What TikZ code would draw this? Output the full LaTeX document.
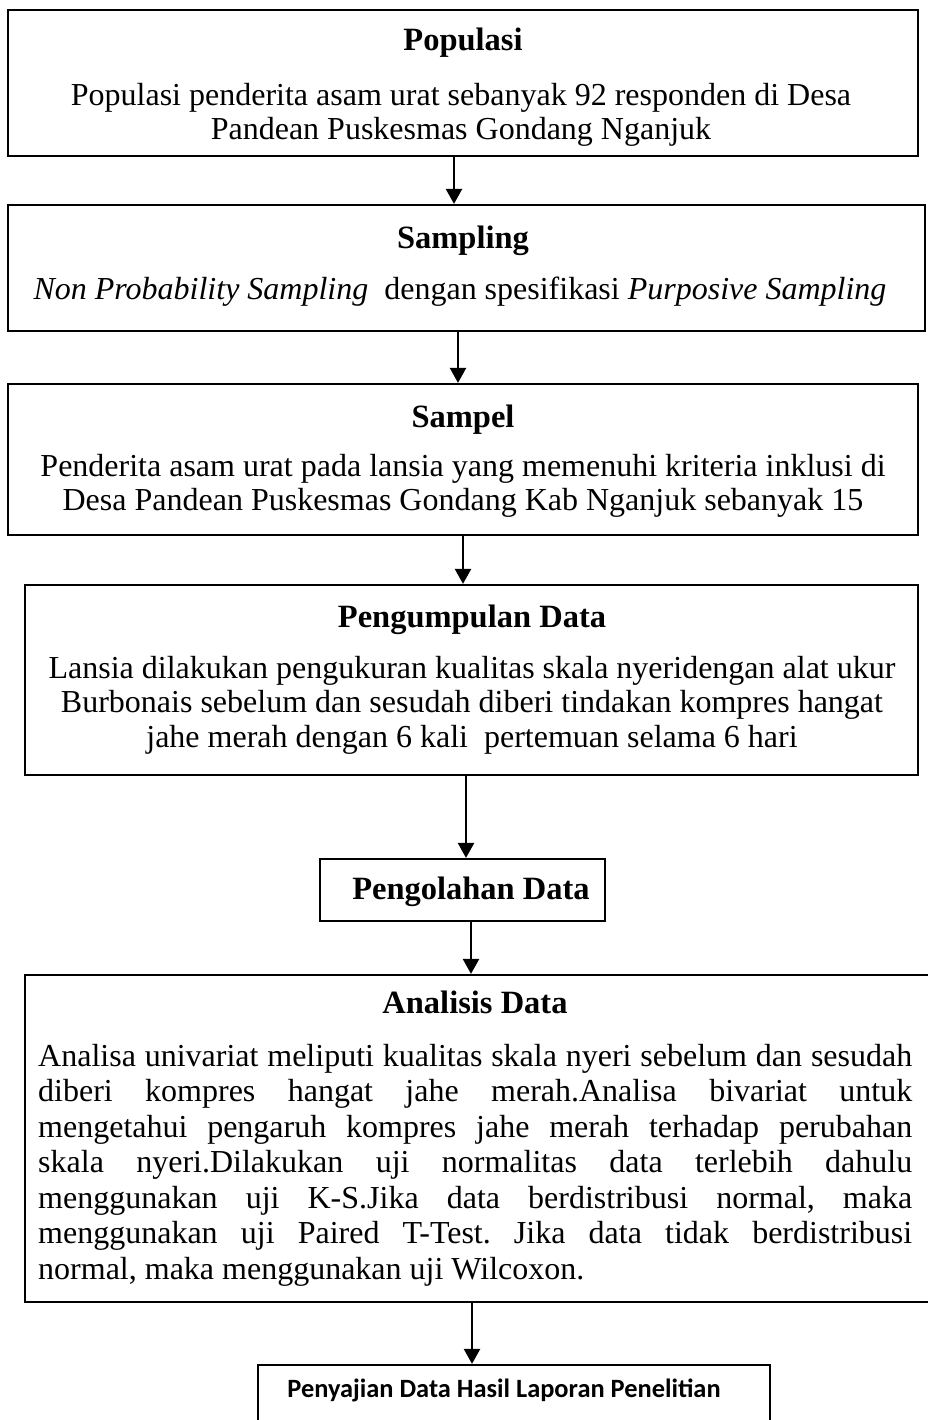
\documentclass[tikz,border=0pt]{standalone}
\usepackage{fontspec}
\setmainfont{Liberation Serif}
\newfontfamily\calib{Carlito}
\usetikzlibrary{arrows.meta}
\frenchspacing
\tikzset{
  box/.style={draw, line width=2.2pt, inner sep=0pt, rectangle},
  ttl/.style={anchor=base, inner sep=0pt, font=\fontsize{32.5}{36}\selectfont\bfseries},
  txt/.style={anchor=base, inner sep=0pt, font=\fontsize{32}{36}\selectfont},
  jtxt/.style={anchor=base west, inner sep=0pt, font=\fontsize{32}{36}\selectfont},
  arr/.style={line width=2.4pt, -{Triangle[width=16pt,length=15pt]}}
}
\newcommand{\jline}[1]{\makebox[874pt][s]{#1}}
\begin{document}
\begin{tikzpicture}[x=1pt,y=-1pt]
\useasboundingbox (0,0) rectangle (927,1420);
\fill[white] (0,0) rectangle (927,1420);
% boxes
\node[box, minimum width=910pt, minimum height=146pt] (b1) at (463,83) {};
\node[box, minimum width=917pt, minimum height=126pt] (b2) at (466.5,268) {};
\node[box, minimum width=910pt, minimum height=151pt] (b3) at (463,459.5) {};
\node[box, minimum width=893pt, minimum height=190pt] (b4) at (471.5,680) {};
\node[box, minimum width=285pt, minimum height=62pt] (b5) at (462.5,890) {};
\node[box, minimum width=910pt, minimum height=327pt] (b6) at (480,1138.5) {};
\node[box, minimum width=512pt, minimum height=65pt] (b7) at (514,1397.5) {};
% texts
\node[ttl] (t1) at (463,51) {Populasi};
\node[txt] (l11) at (461,106) {Populasi penderita asam urat sebanyak 92 responden di Desa};
\node[txt] (l12) at (461,140) {Pandean Puskesmas Gondang Nganjuk};
\node[ttl] (t2) at (463,249) {Sampling};
\node[txt] (l21) at (460,300) {\textit{Non Probability Sampling}\ \ dengan spesifikasi \textit{Purposive Sampling}};
\node[ttl] (t3) at (463,427) {Sampel};
\node[txt] (l31) at (463,476) {Penderita asam urat pada lansia yang memenuhi kriteria inklusi di};
\node[txt] (l32) at (463,510) {Desa Pandean Puskesmas Gondang Kab Nganjuk sebanyak 15};
\node[ttl] (t4) at (472,627) {Pengumpulan Data};
\node[txt] (l41) at (472,678) {Lansia dilakukan pengukuran kualitas skala nyeridengan alat ukur};
\node[txt] (l42) at (472,712) {Burbonais sebelum dan sesudah diberi tindakan kompres hangat};
\node[txt] (l43) at (472,747) {jahe merah dengan 6 kali\ \ pertemuan selama 6 hari};
\node[ttl] (t5) at (471,899) {Pengolahan Data};
\node[ttl] (t6) at (475,1013) {Analisis Data};
\node[jtxt] (l61) at (38,1066) {\jline{Analisa univariat meliputi kualitas skala nyeri sebelum dan sesudah}};
\node[jtxt] (l62) at (38,1101.5) {\jline{diberi kompres hangat jahe merah.Analisa bivariat untuk}};
\node[jtxt] (l63) at (38,1137) {\jline{mengetahui pengaruh kompres jahe merah terhadap perubahan}};
\node[jtxt] (l64) at (38,1172.5) {\jline{skala nyeri.Dilakukan uji normalitas data terlebih dahulu}};
\node[jtxt] (l65) at (38,1208) {\jline{menggunakan uji K-S.Jika data berdistribusi normal, maka}};
\node[jtxt] (l66) at (38,1243.5) {\jline{menggunakan uji Paired T-Test. Jika data tidak berdistribusi}};
\node[jtxt] (l67) at (38,1279) {normal, maka menggunakan uji Wilcoxon.};
\node[anchor=base, inner sep=0pt, font=\fontsize{26.4}{30}\selectfont\calib\bfseries] (t7) at (504,1397) {Penyajian Data Hasil Laporan Penelitian};
% connector x positions
\coordinate (c1) at (454,0);
\coordinate (c2) at (458,0);
\coordinate (c3) at (463,0);
\coordinate (c4) at (466,0);
\coordinate (c5) at (471,0);
\coordinate (c6) at (472,0);
\draw[arr] (b1.south -| c1) -- (b2.north -| c1);
\draw[arr] (b2.south -| c2) -- (b3.north -| c2);
\draw[arr] (b3.south -| c3) -- (b4.north -| c3);
\draw[arr] (b4.south -| c4) -- (b5.north -| c4);
\draw[arr] (b5.south -| c5) -- (b6.north -| c5);
\draw[arr] (b6.south -| c6) -- (b7.north -| c6);
\end{tikzpicture}
\end{document}
